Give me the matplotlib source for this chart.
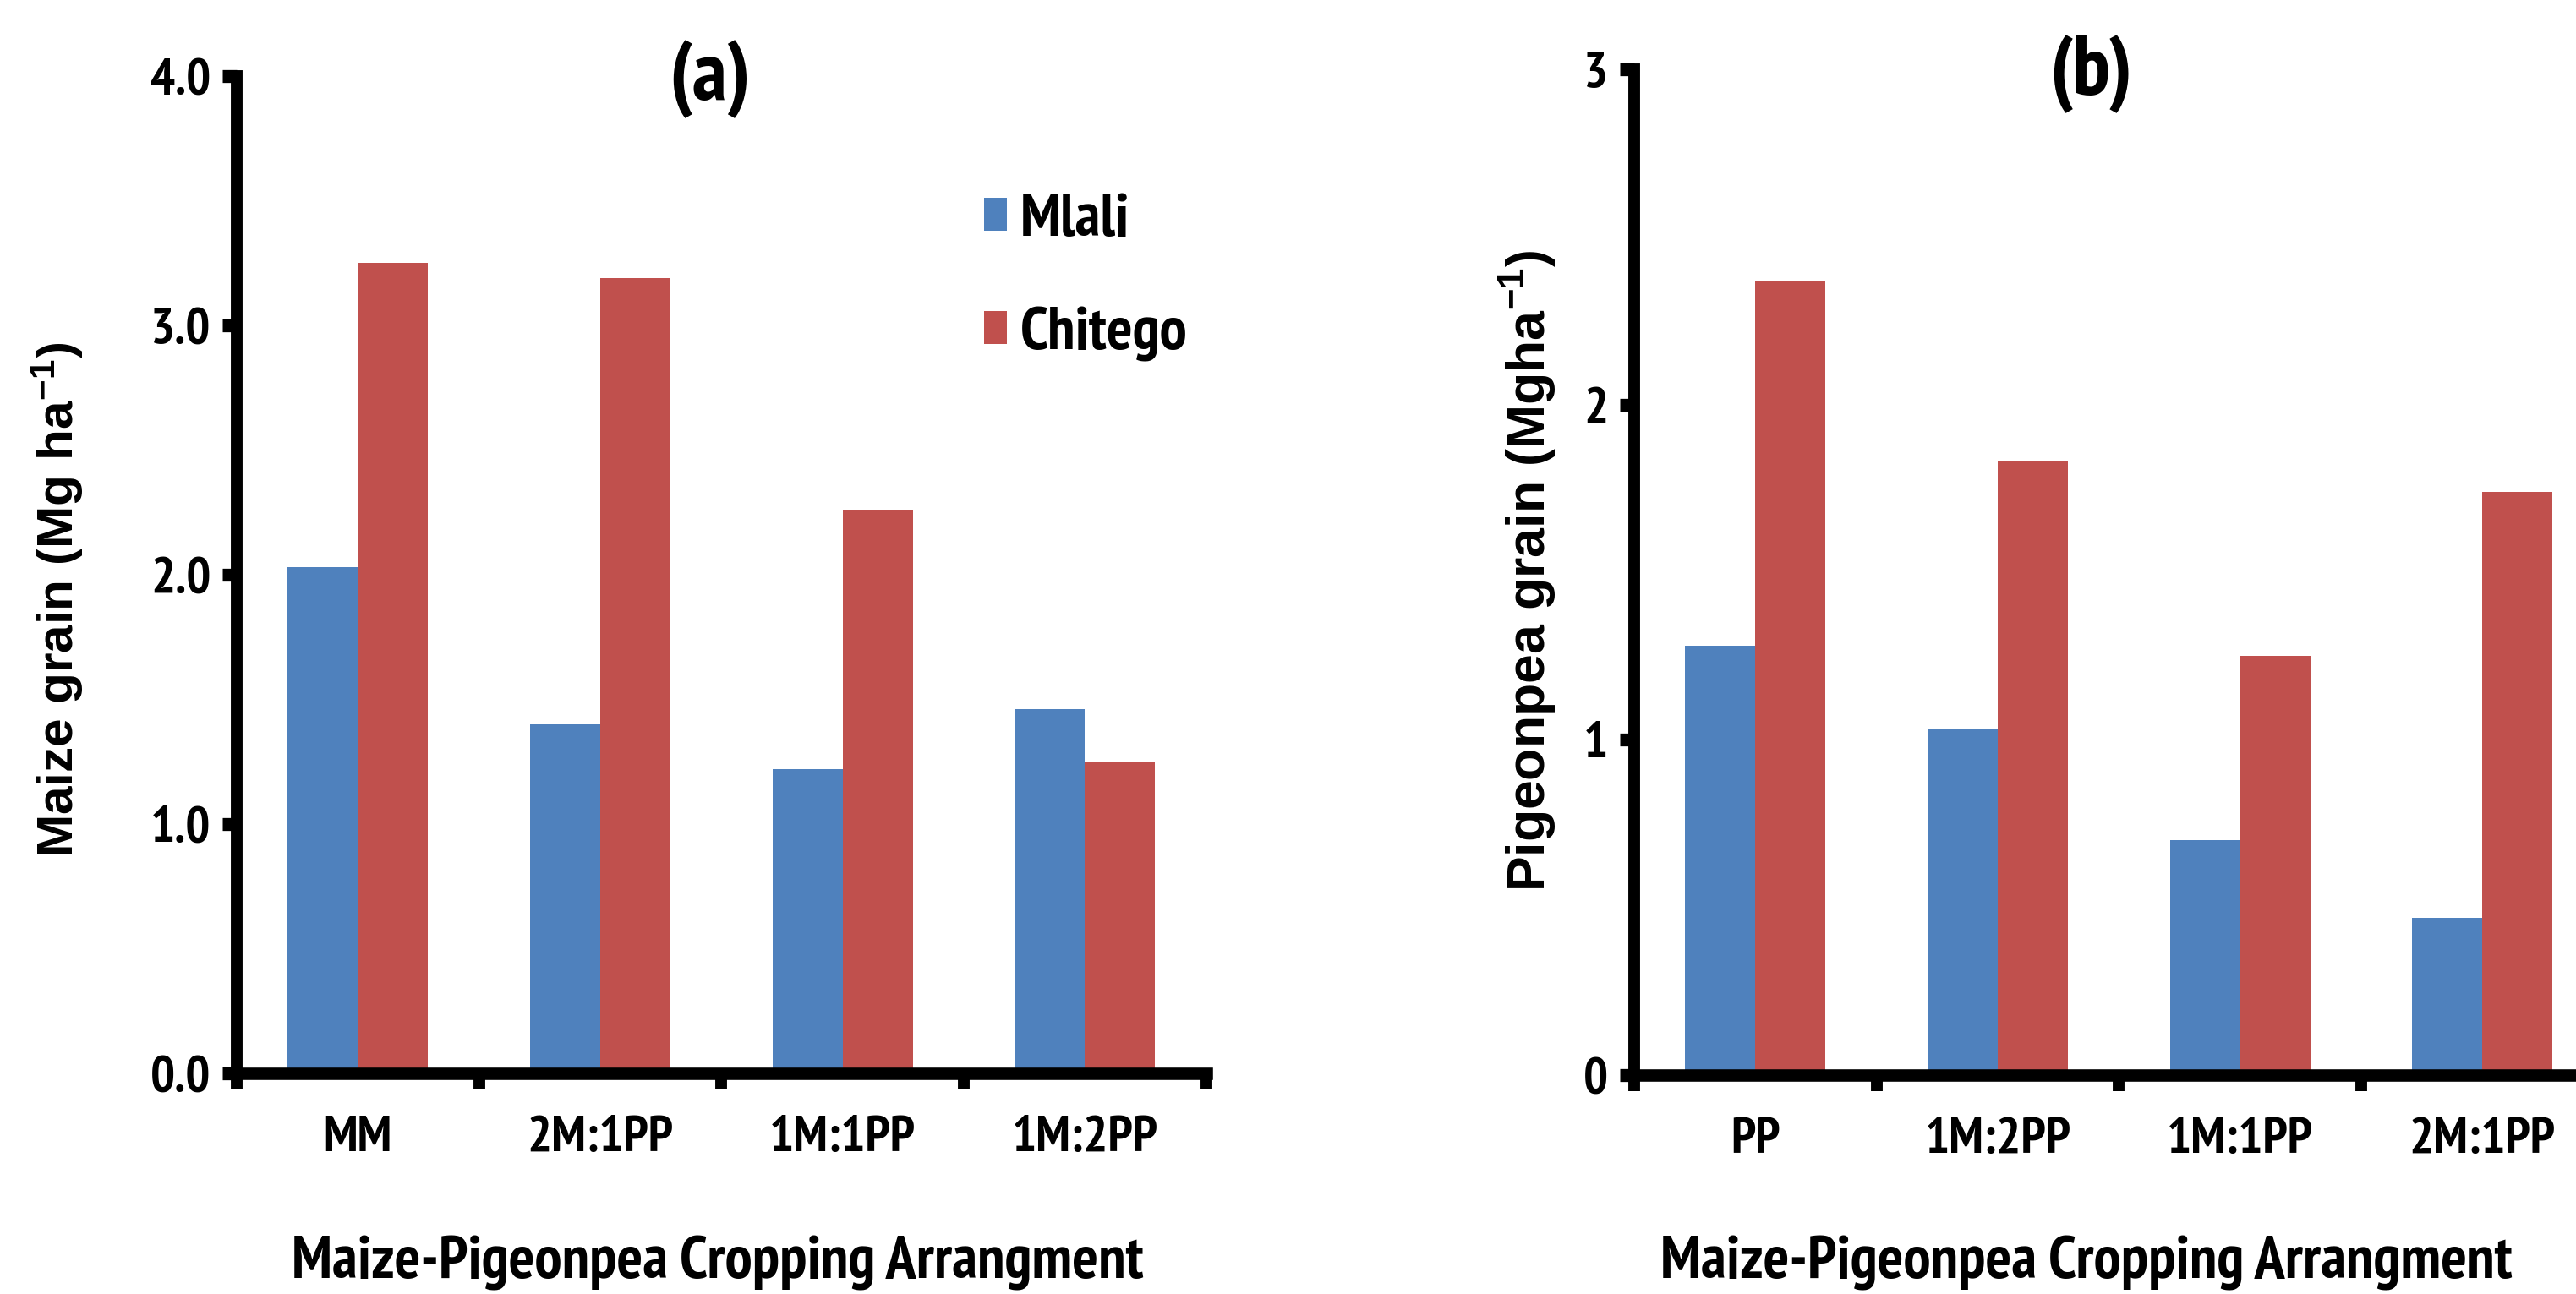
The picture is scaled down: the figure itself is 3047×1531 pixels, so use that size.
import matplotlib
matplotlib.use("Agg")
import matplotlib.pyplot as plt
from matplotlib import font_manager as fm
import numpy as np

avail = {f.name for f in fm.fontManager.ttflist}
# narrow fonts with Helvetica-narrow metrics first, then PT Sans Narrow
helv_narrow = [n for n in ['Arial Narrow', 'Nimbus Sans Narrow', 'Liberation Sans Narrow'] if n in avail]
if helv_narrow:
    main = helv_narrow[0]
    SZ = dict(tick=48, xlab=47.5, leg=47.5, title=69)
elif 'PT Sans Narrow' in avail:
    main = 'PT Sans Narrow'
    SZ = dict(tick=44, xlab=52, leg=52, title=72)
else:
    main = 'Liberation Sans'
    SZ = dict(tick=40, xlab=39, leg=39, title=58)

plt.rcParams['font.family'] = [main, 'Liberation Sans', 'DejaVu Sans']
plt.rcParams['font.weight'] = 'bold'
plt.rcParams['mathtext.fontset'] = 'custom'
plt.rcParams['mathtext.rm'] = 'Liberation Sans:bold'
plt.rcParams['mathtext.bf'] = 'Liberation Sans:bold'
plt.rcParams['mathtext.it'] = 'Liberation Sans:bold'

series = ['Mlali', 'Chitego']
colors = ['#4F81BD', '#C0504D']

cats_a = ['MM', '2M:1PP', '1M:1PP', '1M:2PP']
mlali_a = [2.03, 1.40, 1.22, 1.46]
chitego_a = [3.25, 3.19, 2.26, 1.25]

cats_b = ['PP', '1M:2PP', '1M:1PP', '2M:1PP']
mlali_b = [1.28, 1.03, 0.70, 0.47]
chitego_b = [2.37, 1.83, 1.25, 1.74]

yticks_a = [0.0, 1.0, 2.0, 3.0, 4.0]
yticks_b = [0, 1, 2, 3]

xlabel_text = 'Maize-Pigeonpea Cropping Arrangment'
ylabel_a = 'Maize grain (Mg ha$^{\\mathrm{-1}}$)'
ylabel_b = 'Pigeonpea grain (Mgha$^{\\mathrm{-1}}$)'

fig = plt.figure(figsize=(30.47, 15.31), dpi=100)
axa = fig.add_axes([0.0919, 0.1705, 0.3763, 0.7707])
axb = fig.add_axes([0.6344, 0.1692, 0.3763, 0.7772])

W = 0.29


def draw(ax, cats, m, c, yticks, fmt):
    x = np.arange(len(cats))
    ax.bar(x - W / 2, m, W, color=colors[0], label=series[0], zorder=2)
    ax.bar(x + W / 2, c, W, color=colors[1], label=series[1], zorder=2)
    ax.set_xlim(-0.5, len(cats) - 0.5)
    ax.set_ylim(yticks[0], yticks[-1])
    ax.set_yticks(yticks)
    ax.set_yticklabels([fmt.format(v) for v in yticks], fontsize=SZ['tick'], fontweight='bold')
    ax.set_xticks(np.arange(len(cats) + 1) - 0.5)
    ax.set_xticklabels([])
    ax.set_xticks(x, minor=True)
    ax.set_xticklabels(cats, minor=True, fontsize=SZ['tick'], fontweight='bold')
    ax.tick_params(axis='x', which='minor', length=0, pad=36)
    ax.tick_params(axis='x', which='major', direction='out', length=14, width=10)
    ax.tick_params(axis='y', which='major', direction='out', length=12, width=11, pad=10)
    for s in ['top', 'right']:
        ax.spines[s].set_visible(False)
    ax.spines['left'].set_linewidth(10)
    ax.spines['bottom'].set_linewidth(10.5)
    ax.spines['bottom'].set_zorder(3)


draw(axa, cats_a, mlali_a, chitego_a, yticks_a, '{:.1f}')
draw(axb, cats_b, mlali_b, chitego_b, yticks_b, '{:d}')

# axis labels and panel titles
fig.text(0.0223, 0.537, ylabel_a, rotation=90, ha='center', va='center',
         fontsize=43.5, fontweight='bold', family=['Liberation Sans', 'DejaVu Sans'])
fig.text(0.593, 0.559, ylabel_b, rotation=90, ha='center', va='center',
         fontsize=45, fontweight='bold', family=['Liberation Sans', 'DejaVu Sans'])
fig.text(0.2787, 0.0118, xlabel_text, ha='center', va='baseline',
         fontsize=SZ['xlab'], fontweight='bold')
fig.text(0.810, 0.0118, xlabel_text, ha='center', va='baseline',
         fontsize=SZ['xlab'], fontweight='bold')
fig.text(0.2754, 0.939, '(a)', ha='center', va='center', fontsize=SZ['title'], fontweight='bold')
fig.text(0.8117, 0.943, '(b)', ha='center', va='center', fontsize=SZ['title'], fontweight='bold')

fem = SZ['leg'] * 100 / 72.0
axa.legend(loc='center left', bbox_to_anchor=(0.771, 0.798), frameon=False,
           prop={'weight': 'bold', 'size': SZ['leg']}, borderpad=0, borderaxespad=0,
           handlelength=27 / fem, handleheight=33 / fem, handletextpad=16 / fem,
           labelspacing=0.97)

fig.savefig('out.png', dpi=100)
